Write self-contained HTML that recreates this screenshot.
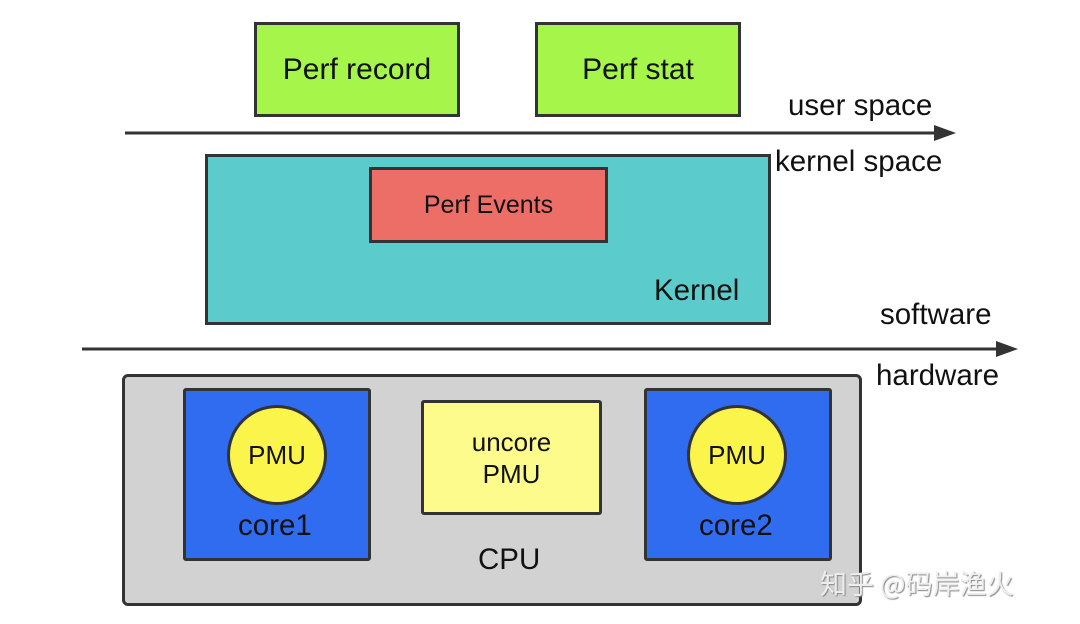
<!DOCTYPE html>
<html><head><meta charset="utf-8"><style>
body{margin:0;width:1080px;height:624px;background:#fff;position:relative;overflow:hidden;font-family:"Liberation Sans","DejaVu Sans",sans-serif;}
.b{position:absolute;box-sizing:border-box;border:3px solid #333;display:flex;align-items:center;justify-content:center;text-align:center;color:#111;}
.t{position:absolute;color:#111;font-size:29.5px;white-space:nowrap;}
</style></head><body>
<div class="b" style="left:254px;top:22px;width:206px;height:95px;background:#a6f54a;font-size:30px;">Perf record</div>
<div class="b" style="left:535px;top:22px;width:206px;height:95px;background:#a6f54a;font-size:30px;">Perf stat</div>
<div class="t" style="left:788px;top:89px;">user space</div>
<div class="t" style="left:775px;top:145px;">kernel space</div>
<div class="b" style="left:205px;top:154px;width:566px;height:171px;background:#5ccbcb;"></div>
<div class="b" style="left:369px;top:167px;width:239px;height:76px;background:#ec6e66;font-size:25px;">Perf Events</div>
<div class="t" style="left:654px;top:274px;">Kernel</div>
<div class="t" style="left:880px;top:298px;">software</div>
<div class="t" style="left:876px;top:359px;">hardware</div>
<svg style="position:absolute;left:0;top:0" width="1080" height="624">
<line x1="125" y1="133" x2="940" y2="133" stroke="#333" stroke-width="3"/>
<polygon points="956,133 934,125 934,141" fill="#333"/>
<line x1="82" y1="349" x2="1002" y2="349" stroke="#333" stroke-width="3"/>
<polygon points="1018,349 996,341 996,357" fill="#333"/>
</svg>
<div class="b" style="left:122px;top:374px;width:740px;height:232px;background:#d2d2d2;border-radius:6px;"></div>
<div class="b" style="left:183px;top:388px;width:188px;height:173px;background:#2f6cf0;border-radius:3px;"></div>
<div class="b" style="left:644px;top:388px;width:188px;height:173px;background:#2f6cf0;border-radius:3px;"></div>
<div class="b" style="left:227px;top:405px;width:100px;height:100px;border-radius:50%;background:#fbf44a;font-size:26px;">PMU</div>
<div class="b" style="left:687px;top:405px;width:100px;height:100px;border-radius:50%;background:#fbf44a;font-size:26px;">PMU</div>
<div class="t" style="left:238px;top:509px;">core1</div>
<div class="t" style="left:699px;top:509px;">core2</div>
<div class="b" style="left:421px;top:400px;width:181px;height:115px;background:#fdfb8c;border-radius:3px;font-size:26px;line-height:32px;">uncore<br>PMU</div>
<div class="t" style="left:478px;top:543px;">CPU</div>
<div class="t" style="left:820px;top:563px;color:#eee;font-size:27px;font-family:'Noto Sans CJK SC',sans-serif;text-shadow:1px 1px 1px #888;">知乎 @码岸渔火</div>
</body></html>
